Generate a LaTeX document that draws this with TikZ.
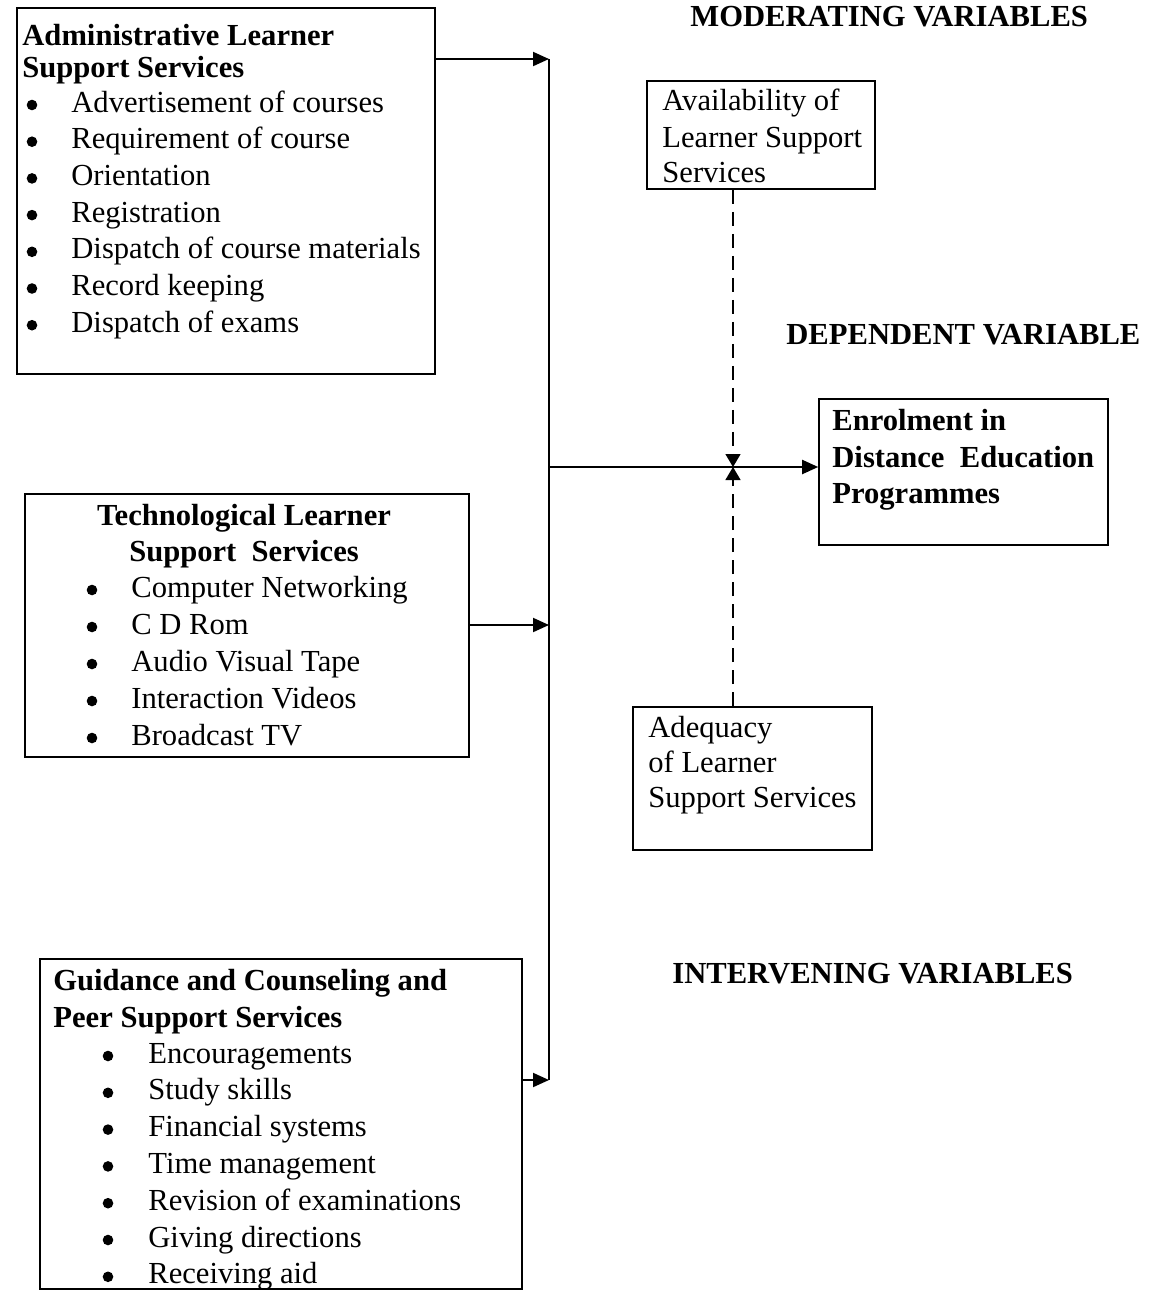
\documentclass[tikz,border=0pt]{standalone}
\usepackage{fontspec}
\setmainfont{Liberation Serif}
\usetikzlibrary{arrows.meta, fit}

\begin{document}
\begin{tikzpicture}[x=0.5pt, y=-0.5pt,
    box/.style={draw, line width=0.8pt, inner sep=0pt},
    txt/.style={font=\fontsize{15.3}{18}\selectfont, inner sep=0pt, anchor=base west},
    hd/.style={txt, font=\fontsize{15.3}{18}\selectfont\bfseries},
    dot/.style={circle, fill, inner sep=0pt, minimum size=5.3pt},
    link/.style={line width=1pt, -{Triangle[length=8pt, width=7pt]}},
    mod/.style={line width=0.7pt, dash pattern=on 7pt off 4pt, -{Triangle[length=6.5pt, width=7.5pt]}}]
    \useasboundingbox (0,0) rectangle (1151,1292);

    % boxes
    \node[box, fit={(17,8) (435,374)}] (admin) {};
    \node[box, fit={(25,494) (469,757)}] (tech) {};
    \node[box, fit={(40,959) (522,1289)}] (guid) {};
    \node[box, fit={(647,81) (875,189)}] (avail) {};
    \node[box, fit={(633,707) (872,850)}] (adeq) {};
    \node[box, fit={(819,399) (1108,545)}] (enrol) {};

    % headings
    \node[hd] (h-mod) at (690,26) {MODERATING VARIABLES};
    \node[hd] (h-dep) at (786,344) {DEPENDENT VARIABLE};
    \node[hd] (h-int) at (672,983) {INTERVENING VARIABLES};

    % administrative
    \node[hd] (admin-t1) at (22,45) {Administrative Learner};
    \node[hd] (admin-t2) at (22,77) {Support Services};
    \foreach \t [count=\i] in {Advertisement of courses, Requirement of course,
        Orientation, Registration, Dispatch of course materials, Record keeping,
        Dispatch of exams} {
        \pgfmathsetmacro{\y}{112 + (\i-1)*36.7}
        \node[dot] (admin-b\i) at (32,\y-7) {};
        \node[txt] (admin-\i) at (71,\y) {\t};
    }

    % technological
    \node[hd, anchor=base] (tech-t1) at (244,525) {Technological Learner};
    \node[hd, anchor=base] (tech-t2) at (244,561) {Support~~Services};
    \foreach \t [count=\i] in {Computer Networking, C D Rom, Audio Visual Tape,
        Interaction Videos, Broadcast TV} {
        \pgfmathsetmacro{\y}{597 + (\i-1)*37}
        \node[dot] (tech-b\i) at (92,\y-7) {};
        \node[txt] (tech-\i) at (131,\y) {\t};
    }

    % guidance
    \node[hd] (guid-t1) at (53,990) {Guidance and Counseling and};
    \node[hd] (guid-t2) at (53,1027) {Peer Support Services};
    \foreach \t [count=\i] in {Encouragements, Study skills, Financial systems,
        Time management, Revision of examinations, Giving directions, Receiving aid} {
        \pgfmathsetmacro{\y}{1063 + (\i-1)*36.8}
        \node[dot] (guid-b\i) at (108,\y-7) {};
        \node[txt] (guid-\i) at (148,\y) {\t};
    }

    % right hand boxes
    \node[txt] (avail-1) at (662,110) {Availability of};
    \node[txt] (avail-2) at (662,147) {Learner Support};
    \node[txt] (avail-3) at (662,182) {Services};
    \node[txt] (adeq-1) at (648,737) {Adequacy};
    \node[txt] (adeq-2) at (648,772) {of Learner};
    \node[txt] (adeq-3) at (648,807) {Support Services};
    \node[hd] (enrol-1) at (832,430) {Enrolment in};
    \node[hd] (enrol-2) at (832,467) {Distance~~Education};
    \node[hd] (enrol-3) at (832,503) {Programmes};

    % connectors
    \coordinate (trunk-top) at (549,59);
    \coordinate (trunk-mid) at (549,625);
    \coordinate (trunk-bot) at (549,1080);
    \coordinate (hub) at (733,467);
    \draw[line width=1pt] (trunk-top) -- (trunk-bot);
    \draw[link] (admin.east |- trunk-top) -- (trunk-top);
    \draw[link] (tech.east |- trunk-mid) -- (trunk-mid);
    \draw[link] (guid.east |- trunk-bot) -- (trunk-bot);
    \draw[link] (trunk-top |- hub) -- (enrol.west |- hub);
    \draw[mod] (avail.south -| hub) -- (hub);
    \draw[mod] (adeq.north -| hub) -- (hub);
\end{tikzpicture}
\end{document}
